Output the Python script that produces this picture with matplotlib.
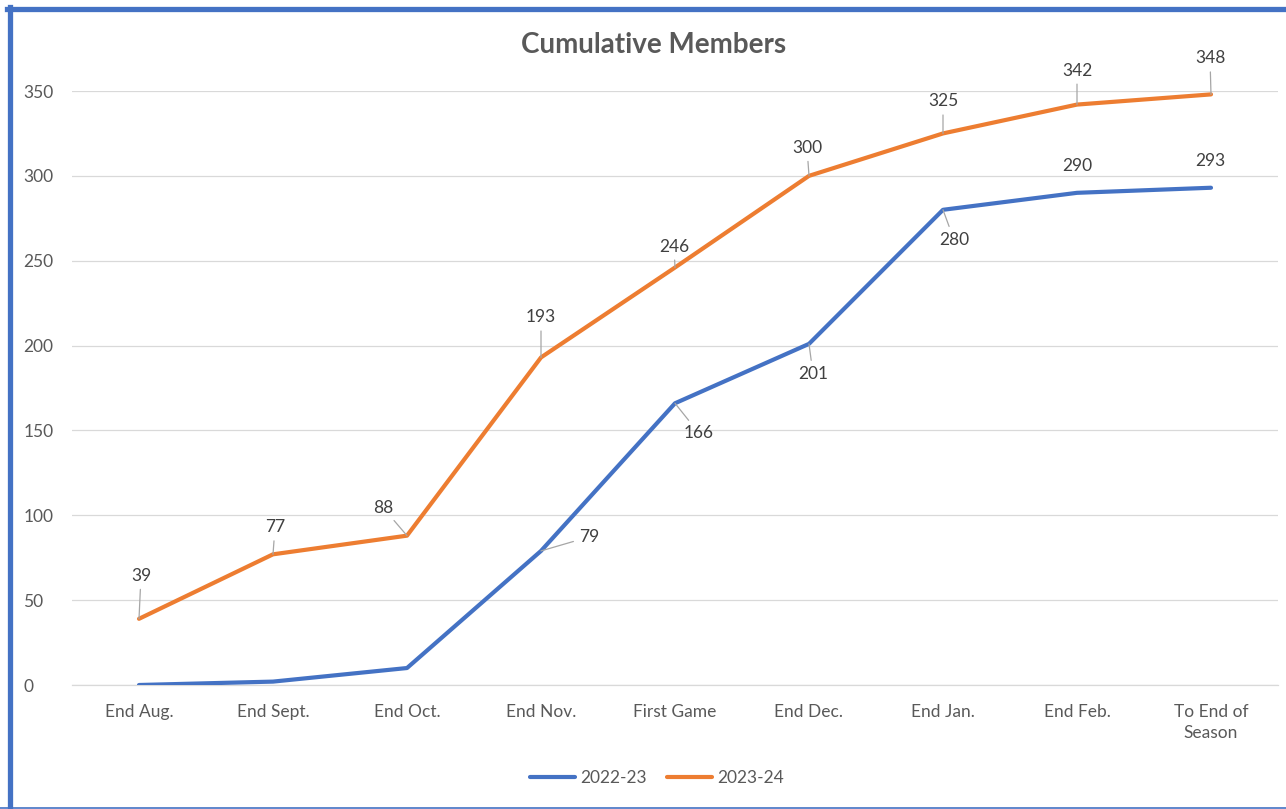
import matplotlib.pyplot as plt
from matplotlib.lines import Line2D

plt.rcParams["font.family"] = ["Lato", "DejaVu Sans"]

# Data
categories = ["End Aug.", "End Sept.", "End Oct.", "End Nov.", "First Game",
              "End Dec.", "End Jan.", "End Feb.", "To End of\nSeason"]
members_2223 = [0, 2, 10, 79, 166, 201, 280, 290, 293]
members_2324 = [39, 77, 88, 193, 246, 300, 325, 342, 348]

# label offsets in pixels (dx, dy) and whether a leader line is shown
offsets_2223 = [None, None, None, (48, 14), (24, -30), (4, -30), (11, -30), (0, 27), (-1, 27)]
leaders_2223 = [False, False, False, True, True, True, True, False, False]
offsets_2324 = [(2, 43), (2, 27), (-24, 28), (0, 40), (-1, 21), (-2, 28), (0, 32), (0, 34), (-1, 36)]

blue = "#4472C4"
orange = "#ED7D31"
grey_text = "#595959"

fig = plt.figure(figsize=(12.86, 8.09), dpi=100)
ax = fig.add_axes([72 / 1286, 1 - 685 / 809, (1278 - 72) / 1286, (685 - 91) / 809])

x = list(range(len(categories)))
ax.plot(x, members_2223, color=blue, lw=3.0, solid_capstyle="round", label="2022-23", zorder=3)
ax.plot(x, members_2324, color=orange, lw=3.0, solid_capstyle="round", label="2023-24", zorder=3)

ax.set_xlim(-0.5, len(categories) - 0.5)
ax.set_ylim(0, 350)
ax.set_yticks(range(0, 351, 50))
ax.set_xticks(x)
ax.set_xticklabels(categories, linespacing=1.35)
ax.tick_params(axis="both", length=0, labelsize=12.5, colors=grey_text)
ax.tick_params(axis="x", pad=14)
ax.tick_params(axis="y", pad=35)
for lab in ax.get_yticklabels():
    lab.set_horizontalalignment("left")
ax.grid(axis="y", color="#D9D9D9", lw=0.9)
ax.set_axisbelow(True)
for s in ["top", "right", "left"]:
    ax.spines[s].set_visible(False)
ax.spines["bottom"].set_color("#D9D9D9")
ax.spines["bottom"].set_linewidth(0.9)


def add_labels(values, offsets, leaders):
    for i, (v, off) in enumerate(zip(values, offsets)):
        if off is None:
            continue
        arrow = None
        if leaders[i]:
            arrow = dict(arrowstyle="-", color="#A6A6A6", lw=0.9, shrinkA=2, shrinkB=0)
        ax.annotate(str(v), xy=(i, v), xytext=off, textcoords="offset pixels",
                    ha="center", va="center", fontsize=12.5, color="#404040",
                    arrowprops=arrow, zorder=4)


add_labels(members_2324, offsets_2324, [True] * 9)
add_labels(members_2223, offsets_2223, leaders_2223)

fig.text(654 / 1286, 1 - 45 / 809, "Cumulative Members", ha="center", va="center",
         fontsize=20, fontweight="bold", color=grey_text)

fig.legend(loc="center", bbox_to_anchor=(657 / 1286, 1 - 778 / 809), ncol=2, frameon=False,
           fontsize=12.5, labelcolor=grey_text, handlelength=2.6, handletextpad=0.3,
           columnspacing=1.2)

# blue frame of the cropped chart
fig.add_artist(Line2D([9.5 / 1286, 9.5 / 1286], [0, 1 - 7 / 809], transform=fig.transFigure,
                      color=blue, lw=3.8))
fig.add_artist(Line2D([7 / 1286, 1], [1 - 9 / 809, 1 - 9 / 809], transform=fig.transFigure,
                      color=blue, lw=3.8))
fig.add_artist(Line2D([0, 1], [1.5 / 809, 1.5 / 809], transform=fig.transFigure,
                      color=blue, lw=1.2))

fig.savefig("out.png", dpi=100)
